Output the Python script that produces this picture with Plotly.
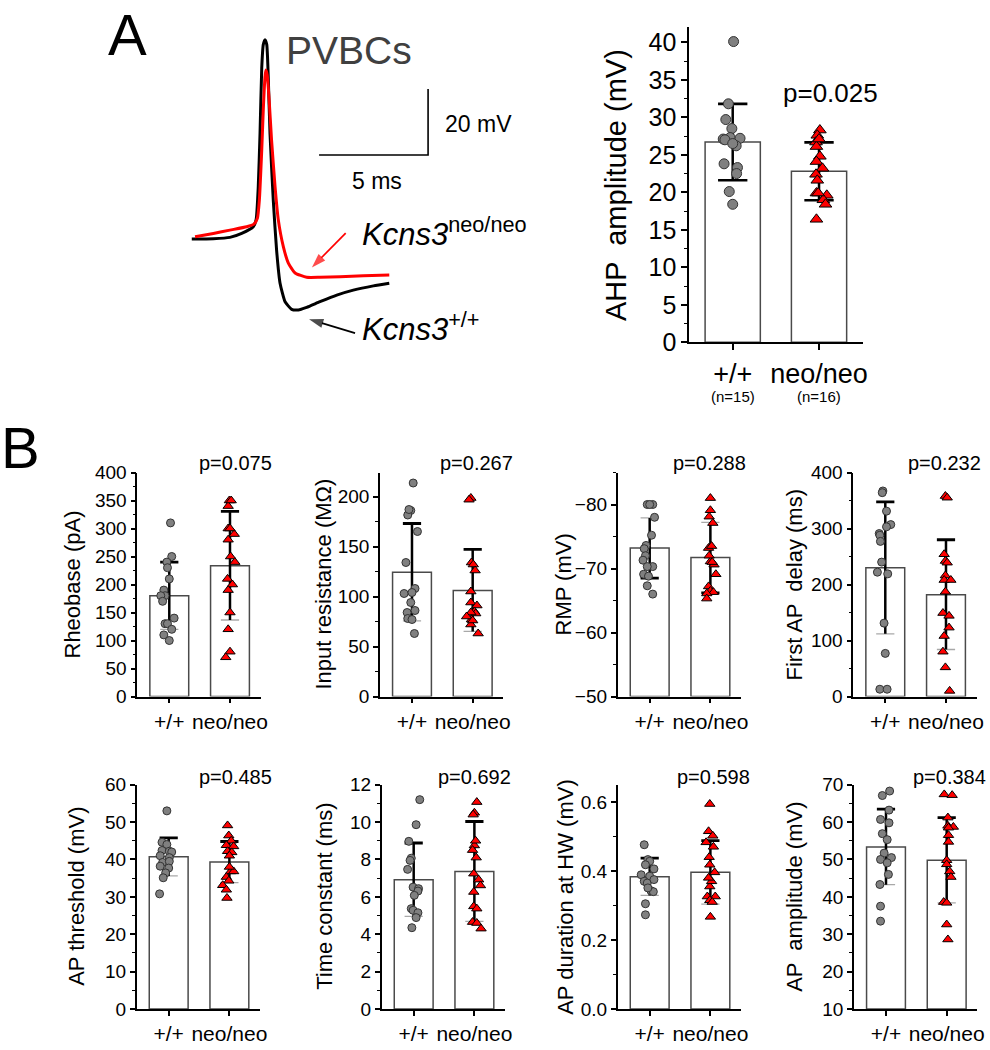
import plotly.graph_objects as go

W, H = 990, 1050
FONT = "Liberation Sans, Arial, Helvetica, sans-serif"

# ---------------- DATA ----------------
# Panel A: representative action potentials (time in ms, voltage in mV)
t_wt = [0.54, 1.53, 2.29, 2.83, 3.36, 3.49, 3.59, 3.67, 3.75, 3.82, 3.90, 3.98, 4.05, 4.13,
        4.28, 4.43, 4.59, 4.82, 5.12, 5.43, 5.81, 6.42, 7.19, 7.95, 8.87, 9.60]
v_wt = [-70.3, -70.2, -69.8, -68.6, -66.6, -64.5, -54.5, -38.5, -18.4, -11.4, -9.9, -11.4, -21.5, -38.5,
        -58.7, -73.6, -83.7, -89.3, -91.6, -91.8, -91.0, -89.3, -87.3, -85.8, -84.5, -83.7]
t_neo = [0.69, 1.53, 2.29, 3.06, 3.39, 3.55, 3.64, 3.75, 3.82, 3.90, 3.94, 4.00, 4.09, 4.20,
         4.36, 4.51, 4.74, 4.97, 5.28, 5.81, 6.42, 7.34, 8.41, 9.60]
v_neo = [-69.6, -68.6, -67.6, -66.6, -65.8, -64.0, -58.5, -43.3, -31.2, -21.1, -19.1, -20.6, -28.2, -40.3,
         -54.4, -64.5, -72.6, -77.6, -80.6, -81.9, -81.9, -81.7, -81.4, -81.2]
scale_ms = 5
scale_mv = 20

groups = ["+/+", "neo/neo"]
n_labels = ["(n=15)", "(n=16)"]

# Panel A: AHP amplitude (mV)
ahp_wt = [40.1, 31.8, 29.7, 28.5, 27.3, 27.1, 27.0, 27.2, 26.2, 23.8, 23.3, 22.5, 20.1, 18.4, 26.5]
ahp_neo = [28.3, 27.6, 26.7, 26.1, 24.8, 24.1, 23.2, 22.4, 21.6, 19.9, 19.6, 19.0, 18.4, 16.4, 19.9, 27.1]
ahp_mean = [26.7, 22.8]
ahp_sd = [5.1, 3.85]
ahp_p = "p=0.025"

# Panel B
rheo_wt = [310, 250, 240, 230, 210, 190, 180, 180, 170, 140, 130, 130, 120, 110, 100]
rheo_neo = [350, 340, 300, 290, 280, 250, 240, 210, 200, 190, 150, 120, 80, 70, 350, 300]
rheo_mean = [180, 233.6]
rheo_sd = [60, 97]

rin_wt = [213.5, 186, 181.5, 165, 134, 108, 103, 104, 94, 84, 86, 78, 63, 187, 77]
rin_neo = [198.5, 196.8, 134, 132, 126, 105, 94, 91, 85, 83, 84, 77, 72, 63, 80, 76]
rin_mean = [124.3, 106.1]
rin_sd = [48.7, 41]

rmp_wt = [-80, -80, -78, -75.2, -73.6, -73.1, -72, -71.3, -70.3, -70.3, -69.1, -68.8, -67.3, -66, -80]
rmp_neo = [-81, -79.1, -78.1, -77.1, -73.2, -71.1, -70.6, -69.1, -67.2, -66.5, -66.3, -66.1, -65.3, -73.5, -72, -71]
rmp_mean = [-73.2, -71.7]
rmp_sd = [4.7, 5.5]

delay_wt = [367, 364, 331, 307, 303, 291, 288, 277, 240, 222, 219, 131, 77, 13, 13]
delay_neo = [358, 355, 254, 242, 239, 216, 208, 208, 187, 149, 144, 123, 108, 80, 52, 10]
delay_mean = [229.7, 181.9]
delay_sd = [117.7, 98]

thr_wt = [53, 44.6, 44, 42.4, 42.2, 42, 41, 40.5, 39.2, 39.5, 38.2, 37.7, 36.4, 35.1, 30.8]
thr_neo = [49.1, 46.4, 45, 43.8, 43.5, 42.2, 41.9, 41, 36.8, 36.8, 35.3, 34.3, 33.1, 31.9, 29.7, 38]
thr_mean = [40.7, 39.3]
thr_sd = [5.1, 5.5]

tau_wt = [11.2, 9.86, 8.97, 8.07, 7.95, 7.47, 6.52, 6.44, 6.31, 6.08, 5.37, 5.28, 5.15, 4.89, 4.35]
tau_neo = [11.07, 10.5, 8.75, 8.1, 7.24, 6.92, 6.61, 6.26, 5.49, 5.37, 4.65, 4.6, 4.3, 10.4, 9.0, 8.5]
tau_mean = [6.92, 7.36]
tau_sd = [1.96, 2.67]

hw_wt = [0.476, 0.433, 0.428, 0.418, 0.406, 0.389, 0.385, 0.370, 0.365, 0.375, 0.343, 0.340, 0.351, 0.305, 0.273]
hw_neo = [0.594, 0.515, 0.502, 0.483, 0.418, 0.396, 0.355, 0.326, 0.326, 0.315, 0.267, 0.47, 0.44, 0.37, 0.31, 0.38]
hw_mean = [0.383, 0.396]
hw_sd = [0.054, 0.092]

amp_wt = [68.3, 67.1, 63.2, 60.7, 59.8, 56.9, 55.3, 51.7, 50.5, 50, 49.1, 46, 43.3, 37.5, 33.5]
amp_neo = [67.4, 67.2, 61.2, 59, 58.7, 58.5, 56.5, 54.7, 49.8, 48.7, 46.8, 45.3, 38.6, 38.4, 32.6, 28.6]
amp_mean = [53.35, 49.8]
amp_sd = [10.1, 11.4]

p_values = ["p=0.075", "p=0.267", "p=0.288", "p=0.232", "p=0.485", "p=0.692", "p=0.598", "p=0.384"]
y_titles = ["Rheobase (pA)", "Input resistance (MΩ)", "RMP (mV)", "First AP  delay (ms)",
            "AP threshold (mV)", "Time constant (ms)", "AP duration at HW (mV)", "AP  amplitude (mV)"]

# ---------------- horizontal jitter of the dots ----------------
ahp_wt_jit = [0.01, -0.05, -0.08, -0.01, -0.03, -0.11, -0.09, 0.085, 0.04, -0.10, 0.055, 0.045, -0.04, 0.0, 0.0]
ahp_neo_jit = [0.01, -0.02, -0.035, -0.03, 0.01, -0.03, 0.04, -0.035, -0.02, -0.03, 0.09, 0.05, 0.075, -0.03, -0.01, 0.0]
rheo_wt_jit = [0.02, 0.04, -0.04, -0.03, 0.0, -0.09, -0.07, -0.14, -0.11, 0.08, -0.07, -0.03, 0.04, -0.09, 0.0]
rheo_neo_jit = [-0.01, -0.03, -0.03, 0.07, -0.03, 0.01, 0.08, -0.04, 0.04, -0.03, 0.0, -0.03, 0.0, -0.07, 0.02, 0.0]
rin_wt_jit = [0.02, -0.02, -0.07, 0.09, -0.10, 0.05, -0.13, 0.0, -0.02, -0.08, 0.05, -0.07, 0.04, -0.05, 0.0]
rin_neo_jit = [-0.03, -0.06, -0.02, 0.01, 0.04, -0.03, -0.03, 0.07, 0.03, 0.05, -0.03, -0.02, -0.03, 0.09, -0.10, 0.0]
rmp_wt_jit = [-0.04, 0.05, 0.08, 0.03, -0.06, -0.09, -0.07, -0.11, 0.05, -0.04, -0.10, -0.02, -0.04, 0.05, 0.0]
rmp_neo_jit = [0.0, 0.0, -0.02, 0.04, -0.03, 0.0, 0.06, 0.09, -0.03, 0.0, 0.05, -0.06, -0.06, 0.02, -0.02, 0.03]
delay_wt_jit = [-0.04, -0.05, 0.02, 0.09, 0.02, -0.10, -0.09, -0.08, -0.06, -0.13, 0.04, -0.02, 0.0, -0.09, 0.03]
delay_neo_jit = [-0.01, 0.02, -0.03, -0.01, 0.02, -0.01, -0.03, 0.08, -0.01, -0.05, 0.05, 0.05, -0.03, -0.05, -0.01, 0.06]
thr_wt_jit = [-0.03, -0.11, -0.03, -0.11, 0.01, 0.05, -0.14, 0.01, -0.10, 0.01, -0.14, 0.0, -0.05, -0.09, -0.15]
thr_neo_jit = [-0.03, -0.01, 0.03, -0.05, 0.07, -0.03, 0.04, 0.0, 0.02, 0.07, -0.05, -0.01, -0.11, -0.05, -0.04, 0.0]
tau_wt_jit = [0.10, 0.04, -0.08, -0.04, -0.06, -0.10, -0.01, 0.08, 0.07, 0.01, -0.04, -0.01, 0.07, 0.04, -0.03]
tau_neo_jit = [0.04, 0.0, 0.0, 0.03, -0.01, 0.07, 0.10, -0.01, -0.01, 0.04, -0.03, 0.04, 0.11, -0.02, 0.02, -0.03]
hw_wt_jit = [-0.09, -0.03, 0.0, -0.07, 0.07, -0.14, 0.0, -0.09, -0.04, 0.07, 0.02, 0.06, -0.03, -0.07, -0.07]
hw_neo_jit = [-0.01, -0.03, 0.04, -0.07, -0.01, 0.07, -0.01, -0.05, 0.08, -0.01, 0.0, 0.05, -0.02, 0.02, 0.03, -0.03]
amp_wt_jit = [0.06, -0.06, 0.05, -0.09, 0.05, -0.06, 0.02, -0.03, 0.09, -0.09, 0.02, 0.04, -0.10, -0.09, -0.09]
amp_neo_jit = [-0.04, 0.09, 0.02, 0.02, 0.11, 0.03, 0.03, 0.03, 0.0, 0.0, 0.05, 0.07, -0.05, 0.0, 0.0, 0.02]

# ---------------- helpers ----------------
fig = go.Figure()
layout = {}
annotations = []


def px(x):
    return x / W


def py(y):
    return 1 - y / H


def names(k):
    return ("x" if k == 1 else f"x{k}"), ("y" if k == 1 else f"y{k}")


def keys(k):
    return ("xaxis" if k == 1 else f"xaxis{k}"), ("yaxis" if k == 1 else f"yaxis{k}")


def ann(text, x, y, size, xanchor="center", yanchor="middle", angle=0, color="black", xref="paper", yref="paper"):
    annotations.append(dict(text=text, x=x, y=y, xref=xref, yref=yref, showarrow=False,
                            xanchor=xanchor, yanchor=yanchor, textangle=angle,
                            font=dict(family=FONT, size=size, color=color)))


def setup_axes(k, xl, xr, yt, yb, xrange, yrange, dtick, mdtick, big, tick0=0, tickformat=None):
    xk, yk = keys(k)
    xa, ya = names(k)
    lw = 2 if big else 1.6
    layout[xk] = dict(domain=[px(xl), px(xr)], range=xrange, anchor=ya, showline=True, linecolor="black",
                      linewidth=lw, ticks="outside", ticklen=6 if big else 5, tickwidth=lw, tickcolor="black",
                      tickmode="array", tickvals=[0, 1], ticktext=groups, showgrid=False, zeroline=False,
                      fixedrange=True, automargin=False,
                      tickfont=dict(family=FONT, size=27 if big else 21, color="black"))
    yd = dict(domain=[py(yb), py(yt)], range=yrange, anchor=xa, showline=True, linecolor="black",
              linewidth=lw, ticks="outside", ticklen=6 if big else 5, tickwidth=lw, tickcolor="black",
              tick0=tick0, dtick=dtick, showgrid=False, zeroline=False, fixedrange=True, automargin=False,
              tickfont=dict(family=FONT, size=25 if big else 19, color="black"),
              minor=dict(dtick=mdtick, tick0=tick0, ticks="outside", ticklen=3, tickwidth=1.2,
                         tickcolor="black", showgrid=False))
    if tickformat:
        yd["tickformat"] = tickformat
    layout[yk] = yd


def bar_panel(k, wt, neo, wt_jit, neo_jit, mean, sd, base, big):
    xa, ya = names(k)
    ms = 10 if big else 8
    capw = 0.17 if big else 0.15
    fig.add_trace(go.Bar(x=[0, 1], y=[m - base for m in mean], base=base, width=0.64,
                         marker=dict(color="white", line=dict(color="#4a4a4a", width=1.5)),
                         xaxis=xa, yaxis=ya, showlegend=False, hoverinfo="skip"))
    for i, (m, s) in enumerate(zip(mean, sd)):
        lo_color = "black" if big else "#a8a8a8"
        lo_w = 2.5 if big else 1.3
        fig.add_trace(go.Scatter(x=[i - capw, i + capw], y=[m - s, m - s], mode="lines",
                                 line=dict(color=lo_color, width=lo_w), xaxis=xa, yaxis=ya,
                                 showlegend=False, hoverinfo="skip"))
        fig.add_trace(go.Scatter(x=[i, i], y=[m - s, m + s], mode="lines",
                                 line=dict(color="black", width=2.5), xaxis=xa, yaxis=ya,
                                 showlegend=False, hoverinfo="skip"))
        fig.add_trace(go.Scatter(x=[i - capw, i + capw], y=[m + s, m + s], mode="lines",
                                 line=dict(color="black", width=2.8), xaxis=xa, yaxis=ya,
                                 showlegend=False, hoverinfo="skip"))
    fig.add_trace(go.Scatter(x=[0 + j for j in wt_jit], y=wt, mode="markers",
                             marker=dict(symbol="circle", size=ms, color="#808080",
                                         line=dict(color="#333333", width=1)),
                             xaxis=xa, yaxis=ya, showlegend=False, cliponaxis=False))
    fig.add_trace(go.Scatter(x=[1 + j for j in neo_jit], y=neo, mode="markers",
                             marker=dict(symbol="triangle-up", size=ms + 1, color="#ff0000",
                                         line=dict(color="black", width=1)),
                             xaxis=xa, yaxis=ya, showlegend=False, cliponaxis=False))


# ---------------- Panel A: traces ----------------
fig.add_trace(go.Scatter(x=t_wt, y=v_wt, mode="lines", line=dict(color="black", width=3, shape="spline", smoothing=0.5),
                         xaxis="x", yaxis="y", showlegend=False))
fig.add_trace(go.Scatter(x=t_neo, y=v_neo, mode="lines", line=dict(color="#ff0000", width=3, shape="spline", smoothing=0.5),
                         xaxis="x", yaxis="y", showlegend=False))
bar_x, bar_y = 11.38, -44.85  # corner of the scale bar
fig.add_trace(go.Scatter(x=[bar_x - scale_ms, bar_x, bar_x], y=[bar_y, bar_y, bar_y + scale_mv], mode="lines",
                         line=dict(color="black", width=1.6), xaxis="x", yaxis="y", showlegend=False))
# label arrows (tail -> head), placed in the trace panel's ms / mV frame
for (x0, y0, x1, y1, col) in [(7.60, -68.5, 6.05, -78.9, "#ff0000"), (8.03, -98.8, 5.92, -94.6, "black")]:
    fig.add_trace(go.Scatter(x=[x0, x1], y=[y0, y1], mode="lines+markers", xaxis="x", yaxis="y",
                             line=dict(color=col, width=1.7),
                             marker=dict(symbol="arrow", angleref="previous", size=[0, 15], color=col,
                                         line=dict(width=0)),
                             showlegend=False, hoverinfo="skip", cliponaxis=False))
layout["xaxis"] = dict(domain=[px(180), px(441.6)], range=[0, 12], visible=False, fixedrange=True, automargin=False)
layout["yaxis"] = dict(domain=[py(340), py(30)], range=[-100.9, -6.97], visible=False, fixedrange=True, automargin=False)

ann("PVBCs", px(349), py(50), 39, color="#404040")
ann("20 mV", px(443), py(124), 23, xanchor="left")
ann("5 ms", px(377), py(181), 23)
ann("<i>Kcns3</i><sup>neo/neo</sup>", px(360), py(232), 31, xanchor="left")
ann("<i>Kcns3</i><sup>+/+</sup>", px(360), py(327), 31, xanchor="left")
ann("A", px(127), py(0), 58, yanchor="top")
ann("B", px(20), py(447), 58)

# ---------------- Panel A: AHP bar chart ----------------
setup_axes(2, 689.3, 862.7, 26.7, 342.3, [-0.503, 1.506], [0, 42.08], 5, 2.5, True)
bar_panel(2, ahp_wt, ahp_neo, ahp_wt_jit, ahp_neo_jit, ahp_mean, ahp_sd, 0, True)
ann("AHP  amplitude (mV)", px(616), py(185), 29, angle=-90)
ann(ahp_p, px(830), py(93), 26)
for i, lab in enumerate(n_labels):
    ann(lab, i, py(397), 15, xref="x2")

# ---------------- Panel B ----------------
panels = [
    (rheo_wt, rheo_neo, rheo_wt_jit, rheo_neo_jit, rheo_mean, rheo_sd, 0, [0, 400], 50, 25, 0, None),
    (rin_wt, rin_neo, rin_wt_jit, rin_neo_jit, rin_mean, rin_sd, 0, [0, 224], 50, 25, 0, None),
    (rmp_wt, rmp_neo, rmp_wt_jit, rmp_neo_jit, rmp_mean, rmp_sd, -50, [-50, -85], 10, 5, -50, None),
    (delay_wt, delay_neo, delay_wt_jit, delay_neo_jit, delay_mean, delay_sd, 0, [0, 400], 100, 50, 0, None),
    (thr_wt, thr_neo, thr_wt_jit, thr_neo_jit, thr_mean, thr_sd, 0, [0, 60], 10, 5, 0, None),
    (tau_wt, tau_neo, tau_wt_jit, tau_neo_jit, tau_mean, tau_sd, 0, [0, 12], 2, 1, 0, None),
    (hw_wt, hw_neo, hw_wt_jit, hw_neo_jit, hw_mean, hw_sd, 0, [0, 0.65], 0.2, 0.1, 0, ".1f"),
    (amp_wt, amp_neo, amp_wt_jit, amp_neo_jit, amp_mean, amp_sd, 10, [10, 70], 10, 5, 0, None),
]
x_left = [137.3, 380.0, 617.7, 853.3, 136.7, 381.7, 617.7, 854.0]
row_top = [472.5, 784.7]
row_bot = [696.5, 1009.0]
title_x = [72, 323, 563, 794, 77, 325, 566, 795]
pval_x = [235, 476, 709, 944, 235, 474, 713, 949]
pval_y = [463, 777]

for idx, (wt, neo, wj, nj, mean, sd, base, yr, dt, mdt, t0, tf) in enumerate(panels):
    k = idx + 3
    row = idx // 4
    xl = x_left[idx]
    setup_axes(k, xl, xl + 123.4, row_top[row], row_bot[row], [-0.527, 1.506], yr, dt, mdt, False,
               tick0=t0, tickformat=tf)
    bar_panel(k, wt, neo, wj, nj, mean, sd, base, False)
    ann(y_titles[idx], px(title_x[idx]), py((row_top[row] + row_bot[row]) / 2), 22, angle=-90)
    ann(p_values[idx], px(pval_x[idx]), py(pval_y[row]), 20)

fig.update_layout(
    width=W, height=H, margin=dict(l=0, r=0, t=0, b=0, pad=0, autoexpand=False),
    paper_bgcolor="white", plot_bgcolor="white",
    font=dict(family=FONT, color="black"),
    showlegend=False,
    annotations=annotations,
    **layout,
)

fig.write_html("out.html", config={"displayModeBar": False},
               post_script="document.body.style.margin='0px';")
